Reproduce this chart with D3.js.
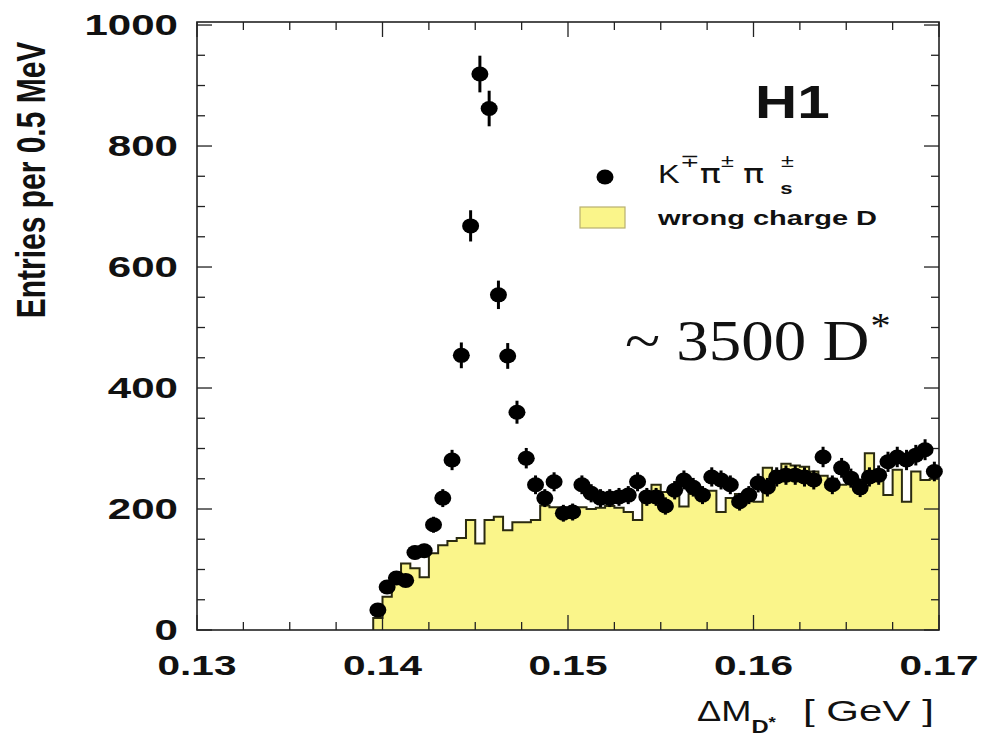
<!DOCTYPE html>
<html>
<head>
<meta charset="utf-8">
<script src="https://cdn.jsdelivr.net/npm/d3@7"></script>
<style>
  html, body { margin: 0; padding: 0; background: #ffffff; }
  svg { display: block; }
  text { font-family: "Liberation Sans", Arial, Helvetica, sans-serif; fill: #111; }
</style>
</head>
<body>
<svg id="chart" width="984" height="738"></svg>
<script>
// ---------------- data ----------------
// bin centres of 0.5 MeV bins (GeV)
const massBins = [
  0.13975, 0.14025, 0.14075, 0.14125, 0.14175, 0.14225, 0.14275, 0.14325, 0.14375, 0.14425,
  0.14475, 0.14525, 0.14575, 0.14625, 0.14675, 0.14725, 0.14775, 0.14825, 0.14875, 0.14925,
  0.14975, 0.15025, 0.15075, 0.15125, 0.15175, 0.15225, 0.15275, 0.15325, 0.15375, 0.15425,
  0.15475, 0.15525, 0.15575, 0.15625, 0.15675, 0.15725, 0.15775, 0.15825, 0.15875, 0.15925,
  0.15975, 0.16025, 0.16075, 0.16125, 0.16175, 0.16225, 0.16275, 0.16325, 0.16375, 0.16425,
  0.16475, 0.16525, 0.16575, 0.16625, 0.16675, 0.16725, 0.16775, 0.16825, 0.16875, 0.16925,
  0.16975
];
const binWidth = 0.0005;

// right-charge K∓π±π±s entries
const signalCounts = [
  33, 71, 86, 82, 128, 131, 174, 218, 281, 454,
  668, 919, 862, 554, 453, 360, 284, 240, 218, 245,
  193, 195, 240, 226, 218, 218, 220, 223, 245, 220,
  220, 205, 231, 248, 236, 223, 253, 248, 240, 212,
  223, 243, 236, 253, 256, 256, 253, 248, 286, 240,
  268, 251, 235, 253, 256, 278, 286, 281, 289, 298,
  262
];
const signalErrors = [
  5.7, 8.4, 9.3, 9.1, 11.3, 11.4, 13.2, 14.8, 16.8, 21.3,
  25.8, 30.3, 29.4, 23.5, 21.3, 19.0, 16.9, 15.5, 14.8, 15.7,
  13.9, 14.0, 15.5, 15.0, 14.8, 14.8, 14.8, 14.9, 15.7, 14.8,
  14.8, 14.3, 15.2, 15.7, 15.4, 14.9, 15.9, 15.7, 15.5, 14.6,
  14.9, 15.6, 15.4, 15.9, 16.0, 16.0, 15.9, 15.7, 16.9, 15.5,
  16.4, 15.8, 15.3, 15.9, 16.0, 16.7, 16.9, 16.8, 17.0, 17.3,
  16.2
];

// wrong-charge D background histogram
const wrongCharge = [
  20, 55, 80, 110, 102, 87, 127, 140, 147, 152,
  182, 143, 182, 187, 165, 178, 178, 182, 206, 203,
  202, 202, 203, 200, 202, 205, 202, 195, 182, 215,
  240, 228, 226, 204, 225, 228, 230, 195, 218, 225,
  230, 212, 268, 262, 275, 272, 270, 262, 255, 250,
  240, 245, 248, 292, 260, 223, 265, 212, 262, 248,
  250
];

const xTicks = [0.13, 0.14, 0.15, 0.16, 0.17];
const xTickLabels = ["0.13", "0.14", "0.15", "0.16", "0.17"];
const yTicks = [0, 200, 400, 600, 800, 1000];
const yTickLabels = ["0", "200", "400", "600", "800", "1000"];

// ---------------- layout ----------------
const svg = d3.select("#chart");
const L = 197, R = 939, T = 22, B = 630;
const x = d3.scaleLinear().domain([0.13, 0.17]).range([L, R]);
const y = d3.scaleLinear().domain([0, 1005]).range([B, T]);

const YELLOW = "#faf58a";
const SERIF = "'Liberation Serif', 'Times New Roman', serif";

// histogram fill + outline
const hist = massBins.map((m, i) => ({ lo: m - binWidth / 2, hi: m + binWidth / 2, v: wrongCharge[i] }));
const areaPts = hist.map(d => [d.lo, d.v]).concat([[hist[hist.length - 1].hi, hist[hist.length - 1].v]]);
const area = d3.area()
  .x(d => x(d[0])).y0(y(0)).y1(d => y(d[1]))
  .curve(d3.curveStepAfter);
svg.append("path").attr("d", area(areaPts)).attr("fill", YELLOW).attr("stroke", "none");

const outlinePts = [[hist[0].lo, 0]].concat(areaPts);
const line = d3.line().x(d => x(d[0])).y(d => y(d[1])).curve(d3.curveStepAfter);
svg.append("path").attr("d", line(outlinePts))
  .attr("fill", "none").attr("stroke", "#2a2a10").attr("stroke-width", 2);

// frame
svg.append("rect").attr("x", L).attr("y", T).attr("width", R - L).attr("height", B - T)
  .attr("fill", "none").attr("stroke", "#222").attr("stroke-width", 1.6);

// ticks (inside, on all four sides)
const tickG = svg.append("g").attr("stroke", "#222").attr("stroke-width", 1.3);
const xMinor = d3.range(0, 17).map(i => 0.13 + i * 0.0025);
xMinor.forEach(v => {
  const isMajor = xTicks.some(t => Math.abs(t - v) < 1e-9);
  const len = isMajor ? 15 : 8;
  tickG.append("line").attr("x1", x(v)).attr("x2", x(v)).attr("y1", B).attr("y2", B - len);
  tickG.append("line").attr("x1", x(v)).attr("x2", x(v)).attr("y1", T).attr("y2", T + len);
});
const yMinor = d3.range(0, 21).map(i => i * 50);
yMinor.forEach(v => {
  const isMajor = yTicks.includes(v);
  const len = isMajor ? 15 : 8;
  tickG.append("line").attr("x1", L).attr("x2", L + len).attr("y1", y(v)).attr("y2", y(v));
  tickG.append("line").attr("x1", R).attr("x2", R - len).attr("y1", y(v)).attr("y2", y(v));
});

// data points with error bars
const pts = svg.append("g");
massBins.forEach((m, i) => {
  const cx = x(m), cy = y(signalCounts[i]);
  pts.append("line")
    .attr("x1", cx).attr("x2", cx)
    .attr("y1", y(signalCounts[i] + signalErrors[i])).attr("y2", y(signalCounts[i] - signalErrors[i]))
    .attr("stroke", "#000").attr("stroke-width", 3);
  pts.append("ellipse").attr("cx", cx).attr("cy", cy).attr("rx", 8.5).attr("ry", 7.5).attr("fill", "#000");
});

// ---------------- text ----------------
function stext(str, tx, ty, size, opts = {}) {
  const t = svg.append("text")
    .attr("transform", `translate(${tx},${ty}) scale(${opts.sx || 1.45},1)`)
    .attr("font-size", size)
    .attr("font-weight", opts.weight || "bold")
    .attr("text-anchor", opts.anchor || "start")
    .text(str);
  if (opts.family) t.style("font-family", opts.family);
  return t;
}

// y tick labels
yTicks.forEach((v, i) => stext(yTickLabels[i], 178, y(v) + 10, 29, { anchor: "end" }));
// x tick labels
xTicks.forEach((v, i) => stext(xTickLabels[i], x(v), 675, 28, { anchor: "middle" }));

// y axis title
svg.append("text")
  .attr("transform", "translate(45,180) rotate(-90) scale(1,1.35)")
  .attr("font-size", 30).attr("font-weight", "bold").attr("text-anchor", "middle")
  .text("Entries per 0.5 MeV");

// x axis title: ΔM with subscript D*
const xt = stext("\u0394M", 697, 721, 29, { weight: "normal", sx: 1.25 });
xt.append("tspan").attr("font-size", 19).attr("font-weight", "bold").attr("dy", 12).text("D");
xt.append("tspan").attr("font-size", 15).attr("font-weight", "bold").attr("dy", -6).text("*");
stext("[ GeV ]", 803, 721, 29, { weight: "normal", sx: 1.45 });

// H1 label
stext("H1", 755, 118, 46, { sx: 1.27 });

// legend: marker + K∓π±π±s
svg.append("ellipse").attr("cx", 605).attr("cy", 177).attr("rx", 8.5).attr("ry", 7.5).attr("fill", "#000");
const lg = stext("K", 658, 183, 25, { weight: "normal", sx: 1.3 });
lg.append("tspan").attr("font-size", 18).attr("dy", -16).text("\u2213");
lg.append("tspan").attr("font-size", 27).attr("dy", 16).attr("dx", 0)
  .style("font-family", "'DejaVu Sans', sans-serif").text("\u03c0");
lg.append("tspan").attr("font-size", 18).attr("dy", -16).text("\u00b1");
lg.append("tspan").attr("font-size", 27).attr("dy", 16).attr("dx", 7)
  .style("font-family", "'DejaVu Sans', sans-serif").text("\u03c0");
lg.append("tspan").attr("font-size", 18).attr("dy", -16).attr("dx", 13).text("\u00b1");
lg.append("tspan").attr("font-size", 17).attr("font-weight", "bold").attr("dy", 27).attr("dx", -10.5).text("s");

svg.append("rect").attr("x", 580).attr("y", 207).attr("width", 45).attr("height", 21)
  .attr("fill", YELLOW).attr("stroke", "#b8b070").attr("stroke-width", 1.2);
stext("wrong charge D", 658, 225, 20, { sx: 1.45 });

// annotation ~3500 D*
const ann = stext("~ 3500 D", 625, 360, 58, { weight: "normal", sx: 1.12, family: SERIF });
ann.append("tspan").attr("font-size", 36).attr("dy", -22).attr("dx", 1).text("*");
</script>
</body>
</html>
